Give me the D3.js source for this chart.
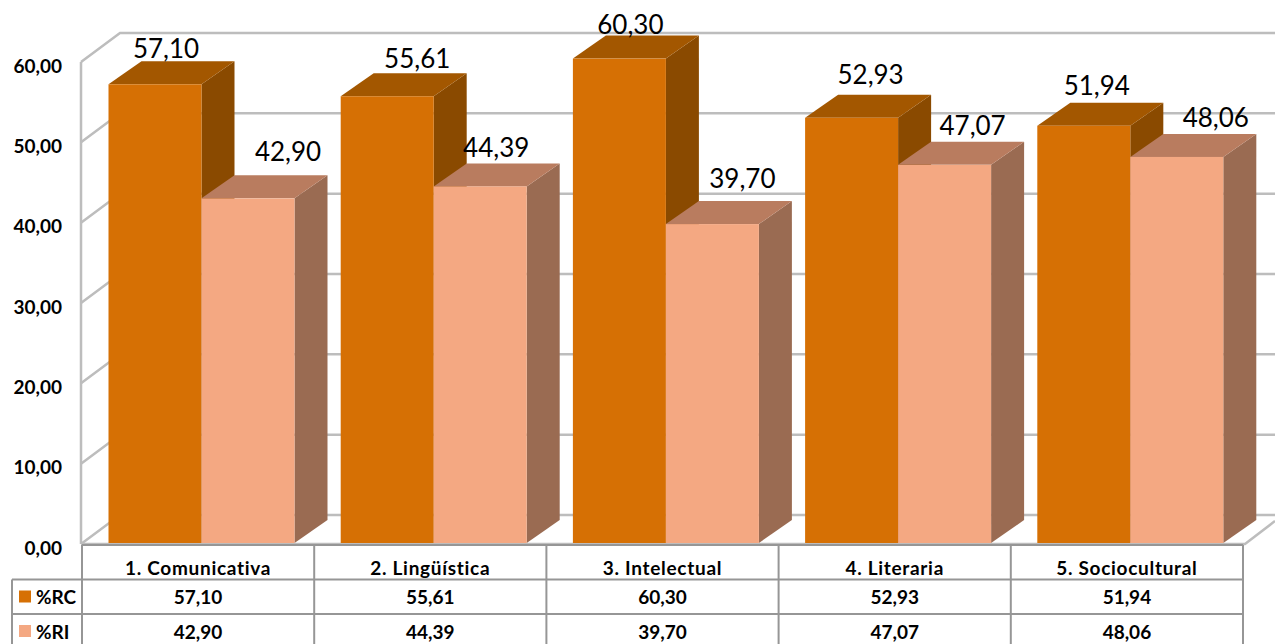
<!DOCTYPE html>
<html>

<head>
    <meta charset="utf-8">
    <title>Competencias</title>
    <script src="https://d3js.org/d3.v7.min.js"></script>
    <style>
        body { margin: 0; background: #fff; }
        svg { display: block; }
        text { font-family: Lato, "Open Sans", sans-serif; fill: #000; }
        .tick-label, .table-text { font-weight: 700; font-size: 19px; }
        .cat-label { letter-spacing: 0.7px; }
        .value-label { font-size: 26px; }
    </style>
</head>

<body>
    <svg width="1275" height="644"></svg>
    <script>
        // Data
        var categories = ["1. Comunicativa", "2. Lingüística", "3. Intelectual", "4. Literaria", "5. Sociocultural"];
        var seriesNames = ["%RC", "%RI"];
        var valuesRC = [57.10, 55.61, 60.30, 52.93, 51.94];
        var valuesRI = [42.90, 44.39, 39.70, 47.07, 48.06];
        var yTicks = [0, 10, 20, 30, 40, 50, 60];

        // Label placement is hand-nudged in the original, offsets from the bar's top centre
        var labelNudgeRC = [[11, -26], [30, -28], [11, -25], [19, -34], [13, -31]];
        var labelNudgeRI = [[40, -37], [16, -29], [30, -36], [28, -30], [39, -30]];

        var colors = [
            { front: "#d67004", top: "#a35700", side: "#8a4a00" },
            { front: "#f4a882", top: "#b97c5f", side: "#9a6b52" }
        ];

        var width = 1275, height = 644;
        var fmt = function (v) { return d3.format(".2f")(v).replace(".", ","); };
        var svg = d3.select("svg");

        // Scales
        var x = d3.scaleBand().domain(d3.range(categories.length)).range([82, 1243]);
        var barWidth = 93;
        var barInset = 26.5;
        var y = d3.scaleLinear().domain([0, 60]).range([544, 62]);

        // 3D offsets
        var wallDx = 39, wallDy = 29;   // chart walls
        var barDx = 33, barDy = 23;     // bar depth

        // Walls and gridlines
        var grid = svg.append("g").attr("stroke", "#bdbdbd").attr("stroke-width", 2.5).attr("fill", "none");
        grid.append("line")
            .attr("x1", 81).attr("x2", 81)
            .attr("y1", y(0)).attr("y2", y(60));
        grid.selectAll(".wall").data(yTicks).enter().append("path")
            .attr("class", "wall")
            .attr("d", function (d) {
                return "M81," + y(d) + "L" + (81 + wallDx) + "," + (y(d) - wallDy) + "L" + width + "," + (y(d) - wallDy);
            });
        grid.append("path")
            .attr("d", "M81," + y(0) + "L1245," + y(0) + "L" + width + "," + (y(0) - 23));

        // Bars
        function drawBar(g, xLeft, value, c) {
            var top = y(value) - 1;
            var bottom = y(0) - 1;
            var right = xLeft + barWidth;
            g.append("path").attr("fill", c.side)
                .attr("d", "M" + right + "," + top + "L" + (right + barDx) + "," + (top - barDy) +
                    "L" + (right + barDx) + "," + (bottom - barDy) + "L" + right + "," + bottom + "Z");
            g.append("path").attr("fill", c.top)
                .attr("d", "M" + xLeft + "," + top + "L" + (xLeft + barDx) + "," + (top - barDy) +
                    "L" + (right + barDx) + "," + (top - barDy) + "L" + right + "," + top + "Z");
            g.append("rect").attr("fill", c.front)
                .attr("x", xLeft).attr("y", top)
                .attr("width", barWidth).attr("height", bottom - top);
        }

        var bars = svg.append("g");
        categories.forEach(function (cat, i) {
            var left = x(i) + barInset;
            drawBar(bars, left, valuesRC[i], colors[0]);
            drawBar(bars, left + barWidth, valuesRI[i], colors[1]);
        });

        // Value labels
        function addLabels(values, nudge, shift) {
            svg.append("g").selectAll("text").data(values).enter().append("text")
                .attr("class", "value-label")
                .attr("text-anchor", "middle")
                .attr("x", function (d, i) { return x(i) + barInset + shift + barWidth / 2 + nudge[i][0]; })
                .attr("y", function (d, i) { return y(d) - 1 + nudge[i][1]; })
                .text(fmt);
        }
        addLabels(valuesRC, labelNudgeRC, 0);
        addLabels(valuesRI, labelNudgeRI, barWidth);

        // Y axis
        var yAxis = svg.append("g")
            .attr("transform", "translate(62,4)")
            .call(d3.axisLeft(y).tickValues(yTicks).tickSize(0).tickPadding(0).tickFormat(fmt));
        yAxis.select(".domain").remove();
        yAxis.selectAll("text").attr("class", "tick-label").attr("fill", "#000");

        // Data table
        var rowY = [545, 579.5, 614, 660];
        var tableLeft = 12;
        var table = svg.append("g").attr("stroke", "#969696").attr("stroke-width", 2).attr("fill", "none");
        table.selectAll(".v").data(d3.range(categories.length + 1)).enter().append("line")
            .attr("x1", function (d) { return d < categories.length ? x(d) : x(d - 1) + x.bandwidth(); })
            .attr("x2", function (d) { return d < categories.length ? x(d) : x(d - 1) + x.bandwidth(); })
            .attr("y1", rowY[0]).attr("y2", height);
        table.append("line").attr("x1", tableLeft).attr("x2", tableLeft).attr("y1", rowY[1]).attr("y2", height);
        table.append("line").attr("x1", 82).attr("x2", x(4) + x.bandwidth()).attr("y1", rowY[0]).attr("y2", rowY[0]);
        table.selectAll(".h").data([rowY[1], rowY[2]]).enter().append("line")
            .attr("x1", tableLeft).attr("x2", x(4) + x.bandwidth())
            .attr("y1", function (d) { return d; }).attr("y2", function (d) { return d; });

        var centerX = function (d, i) { return x(i) + x.bandwidth() / 2; };
        svg.append("g").selectAll("text").data(categories).enter().append("text")
            .attr("class", "table-text cat-label").attr("text-anchor", "middle")
            .attr("x", centerX).attr("y", 575)
            .text(function (d) { return d; });

        [valuesRC, valuesRI].forEach(function (values, r) {
            var baseline = rowY[r + 1] + 24.5;
            svg.append("g").selectAll("text").data(values).enter().append("text")
                .attr("class", "table-text").attr("text-anchor", "middle")
                .attr("x", centerX).attr("y", baseline)
                .text(fmt);
            svg.append("rect")
                .attr("x", 19).attr("y", rowY[r + 1] + 11)
                .attr("width", 12).attr("height", 12)
                .attr("fill", colors[r].front);
            svg.append("text")
                .attr("class", "table-text")
                .attr("x", 36).attr("y", baseline)
                .text(seriesNames[r]);
        });
    </script>
</body>

</html>
